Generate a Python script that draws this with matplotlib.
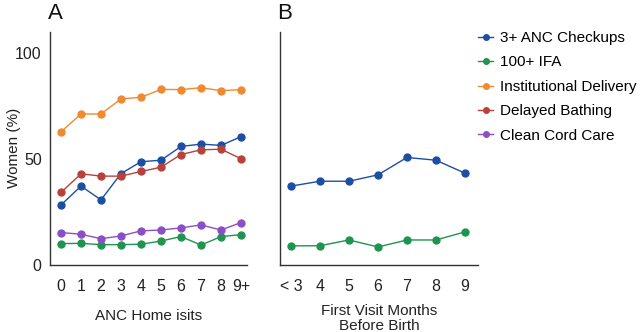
import matplotlib
matplotlib.use("Agg")
import matplotlib.pyplot as plt
from matplotlib.lines import Line2D

plt.rcParams['font.family'] = ['Liberation Sans', 'DejaVu Sans']

# Panel A data
a_labels = ["0", "1", "2", "3", "4", "5", "6", "7", "8", "9+"]
a_anc = [28.3, 37.2, 30.7, 43.1, 48.7, 49.4, 55.9, 57.0, 56.4, 60.5]
a_ifa = [10.1, 10.2, 9.6, 9.6, 9.8, 11.3, 13.4, 9.4, 13.4, 14.3]
a_inst = [62.8, 71.2, 71.2, 78.3, 79.1, 82.8, 82.7, 83.6, 82.2, 82.7]
a_bath = [34.2, 43.0, 41.9, 41.9, 44.1, 46.1, 52.1, 54.3, 54.6, 50.1]
a_cord = [15.3, 14.5, 12.4, 13.7, 16.1, 16.5, 17.5, 18.9, 16.5, 20.0]

# Panel B data
b_labels = ["< 3", "4", "5", "6", "7", "8", "9"]
b_anc = [37.2, 39.5, 39.5, 42.5, 50.7, 49.4, 43.3]
b_ifa = [9.0, 9.1, 11.8, 8.5, 11.8, 11.8, 15.6]

series_names = ["3+ ANC Checkups", "100+ IFA", "Institutional Delivery",
                "Delayed Bathing", "Clean Cord Care"]
colors = ["#1c4fa3", "#1f9450", "#f08a30", "#b9413b", "#8a4fc4"]

fig = plt.figure(figsize=(6.4, 3.32), dpi=100)
axA = fig.add_axes([50/640, 67/332, 197/640, 233.3/332])
axB = fig.add_axes([280/640, 67/332, 198/640, 233.3/332])

mk = dict(marker='o', markersize=5, linewidth=1.0)

xa = list(range(len(a_labels)))
for vals, c in zip([a_anc, a_ifa, a_inst, a_bath, a_cord], colors):
    axA.plot(xa, vals, color=c, **mk)

xb = list(range(len(b_labels)))
for vals, c in zip([b_anc, b_ifa], colors[:2]):
    axB.plot(xb, vals, color=c, **mk)

for ax in (axA, axB):
    ax.set_ylim(0, 110)
    for s in ("top", "right"):
        ax.spines[s].set_visible(False)
    for s in ("left", "bottom"):
        ax.spines[s].set_color("#333333")
        ax.spines[s].set_linewidth(1.0)
    ax.tick_params(length=0, labelsize=11.5, colors="#222222")
    ax.tick_params(axis='x', pad=10)
    ax.tick_params(axis='y', pad=6)

axA.set_xlim(-0.55, 9.3)
axA.set_xticks(xa)
axA.set_xticklabels(a_labels)
axA.set_yticks([0, 50, 100])
axA.set_ylabel("Women (%)", fontsize=11, color="#222222")
axA.yaxis.set_label_coords(-29/197, 0.5)
axA.set_xlabel("ANC Home isits", fontsize=11, labelpad=11, color="#222222")

axB.set_xlim(-0.38, 6.45)
axB.set_xticks(xb)
axB.set_xticklabels(b_labels)
axB.set_yticks([])
axB.set_xlabel("First Visit Months\nBefore Birth", fontsize=11, labelpad=7,
               color="#222222", linespacing=1.1)

fig.text(48/640, 1 - 19/332, "A", fontsize=16, color="#111111")
fig.text(277/640, 1 - 19/332, "B", fontsize=16, color="#111111")

handles = [Line2D([0], [0], color=c, marker='o', markersize=4, linewidth=1.0)
           for c in colors]
fig.legend(handles, series_names, loc="upper left",
           bbox_to_anchor=(472/640, 1 - 25/332), frameon=False,
           fontsize=11, handlelength=1.0, handletextpad=0.45,
           labelspacing=0.68, borderaxespad=0)

fig.savefig("out.png", dpi=100)
